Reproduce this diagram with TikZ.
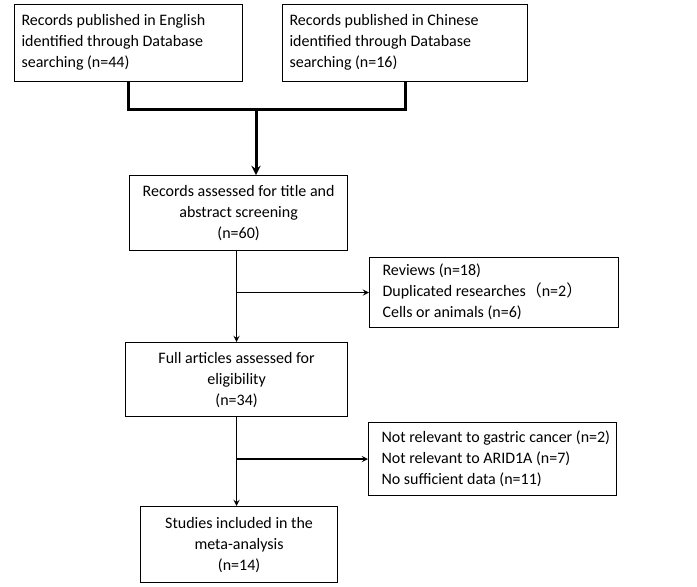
\documentclass[tikz,border=0pt]{standalone}
\usepackage{fontspec}
\setmainfont{Carlito}
\newfontfamily\cjk{Noto Sans CJK SC}
\usepackage{tikz}
\usetikzlibrary{arrows}

\tikzset{
  box/.style={draw=black, line width=1.2pt, anchor=north west, inner sep=0pt},
  boxtext/.style={font=\fontsize{16}{21}\selectfont},
  thickline/.style={line width=3pt, line cap=rect},
  thinline/.style={line width=1.7pt},
}

\begin{document}
\begin{tikzpicture}[line join=miter,>=stealth,x=1pt,y=1pt]
      \useasboundingbox (0,0) rectangle (697,-587);
      % record boxes
      \node[box, minimum width=228, minimum height=77] (eng) at (14,-4) {};
      \node[boxtext, anchor=west, align=left] at (18,-42.5) {Records published in English\\identified through Database\\searching (n=44)};
      \node[box, minimum width=245, minimum height=77] (chn) at (282,-4) {};
      \node[boxtext, anchor=west, align=left] at (286,-42.5) {Records published in Chinese\\identified through Database\\searching (n=16)};
      % screening
      \node[box, minimum width=218, minimum height=75] (screen) at (129,-175) {};
      \node[boxtext, align=center] at (screen.center) {Records assessed for title and\\abstract screening\\(n=60)};
      \node[box, minimum width=249, minimum height=70] (excla) at (369,-257) {};
      \node[boxtext, anchor=west, align=left] at (379,-292) {Reviews (n=18)\\Duplicated researches{\cjk （}n=2{\cjk ）}\\Cells or animals (n=6)};
      % eligibility
      \node[box, minimum width=222, minimum height=74] (full) at (125,-342) {};
      \node[boxtext, align=center] at (full.center) {Full articles assessed for\\eligibility\\(n=34)};
      \node[box, minimum width=248, minimum height=73] (exclb) at (368,-422) {};
      \node[boxtext, anchor=west, align=left] at (378,-458.5) {Not relevant to gastric cancer (n=2)\\Not relevant to ARID1A (n=7)\\No sufficient data (n=11)};
      % included
      \node[box, minimum width=197, minimum height=76] (incl) at (140,-506) {};
      \node[boxtext, align=center] at (incl.center) {Studies included in the\\meta-analysis\\(n=14)};
      % connectors
      \coordinate (join) at (256,-109);
      \draw[thickline] (eng.south) |- (join) -| (chn.south);
      \draw[thickline,->,line cap=butt] (join) -- (join |- screen.north);
      \draw[thinline,->] (full.north |- screen.south) -- (full.north);
      \draw[thinline,->] (full.north |- excla.west) -- (excla.west);
      \draw[thinline,->] (full.south) -- (full.south |- incl.north);
      \draw[thinline,->] (full.south |- exclb.west) -- (exclb.west);
\end{tikzpicture}
\end{document}
